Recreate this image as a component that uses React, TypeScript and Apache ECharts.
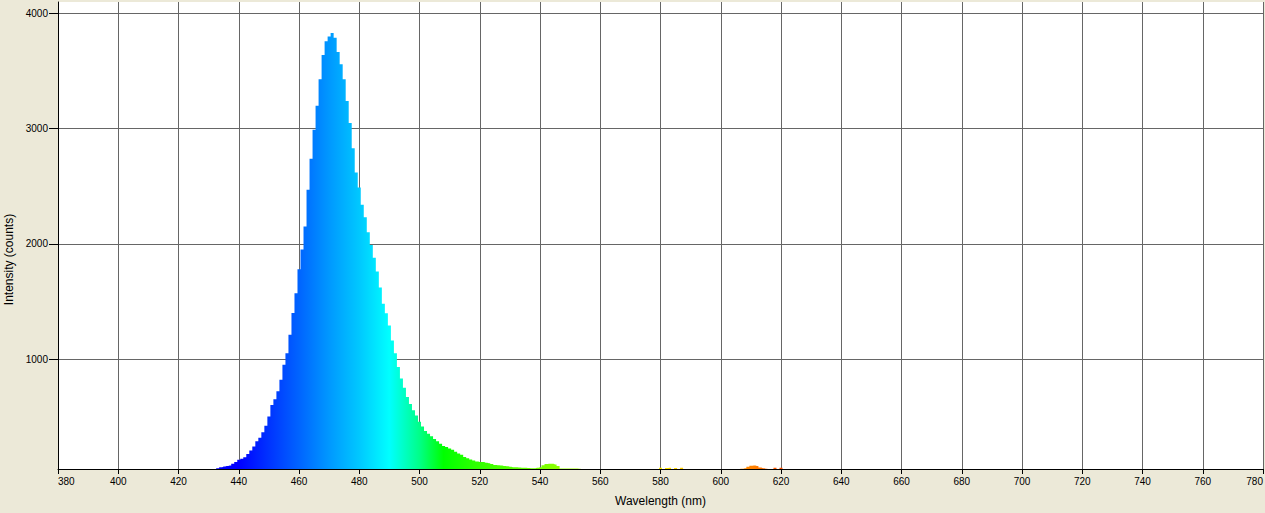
import * as echarts from 'echarts';
import { useEffect, useRef } from 'react';

// spectrum sampled every 1 nm starting at START_NM
const START_NM = 430;
const STEP_NM = 1;
const COUNTS = [
  40, 40, 40, 52, 61, 66, 70, 76, 90, 105,
  125, 135, 148, 175, 205, 240, 285, 317, 365, 420,
  500, 600, 650, 720, 820, 950, 1050, 1210, 1400, 1570,
  1780, 1950, 2150, 2470, 2740, 2990, 3200, 3430, 3640, 3760,
  3800, 3830, 3790, 3665, 3560, 3430, 3240, 3050, 2830, 2620,
  2490, 2340, 2230, 2100, 1990, 1880, 1760, 1620, 1480, 1398,
  1290, 1160, 1050, 930, 830, 750, 670, 610, 555, 510,
  455, 415, 375, 350, 330, 305, 285, 265, 245, 235,
  222, 213, 195, 180, 168, 150, 138, 128, 119, 110,
  105, 105, 100, 96, 88, 80, 77, 76, 72, 68,
  64, 61, 60, 57, 55, 55, 53, 52, 52, 55,
  61, 78, 88, 90, 90, 85, 70, 50, 49, 49,
  49, 49, 49, 48, 40, 40, 40, 40, 40, 40,
  40, 40, 40, 40, 40, 40, 40, 40, 40, 40,
  40, 40, 40, 40, 40, 40, 40, 40, 40, 40,
  55, 40, 54, 55, 40, 54, 40, 55, 40, 40,
  40, 40, 40, 40, 40, 40, 40, 40, 40, 40,
  40, 40, 40, 40, 40, 40, 40, 48, 52, 65,
  74, 76, 70, 58, 52, 47, 40, 40, 55, 40,
  55, 40, 40, 40, 40, 40,
];

const X_MIN = 380;
const X_MAX = 780;
const X_INTERVAL = 20;
const Y_MIN = 45;
const Y_MAX = 4100;
const Y_TICKS = [1000, 2000, 3000, 4000];
const FLOOR = 40; // below the visible axis minimum

// wavelength -> fill colour
const COLOR_STOPS: [number, string][] = [
  [380, '#0000ff'],
  [440, '#0000ff'],
  [450, '#0033ff'],
  [460, '#0064ff'],
  [470, '#0098ff'],
  [480, '#00c8ff'],
  [490, '#00ffff'],
  [500, '#00ff88'],
  [508, '#00ff00'],
  [520, '#33ff00'],
  [545, '#88ff00'],
  [565, '#ccff00'],
  [580, '#ffee00'],
  [595, '#ffaa00'],
  [611, '#ff8000'],
  [620, '#ff5000'],
  [780, '#ff0000'],
];

const FONT = '"Liberation Sans", Arial, sans-serif';

export default function App() {
  const chartRef = useRef<HTMLDivElement>(null);

  useEffect(() => {
    if (!chartRef.current) return;
    const chart = echarts.init(chartRef.current, undefined, { renderer: 'svg' });

    const data: [number, number][] = [
      [X_MIN, FLOOR],
      ...COUNTS.map((v, i) => [START_NM + i * STEP_NM, v] as [number, number]),
      [X_MAX, FLOOR],
    ];

    const fill = new echarts.graphic.LinearGradient(
      0, 0, 1, 0,
      COLOR_STOPS.map(([nm, color]) => ({ offset: (nm - X_MIN) / (X_MAX - X_MIN), color }))
    );

    chart.setOption({
      animation: false,
      backgroundColor: '#ece9d8',
      textStyle: { fontFamily: FONT },
      grid: {
        left: 58,
        right: 2,
        top: 2,
        bottom: 44,
        outerBoundsMode: 'none',
        containLabel: false,
        show: true,
        backgroundColor: '#ffffff',
        borderWidth: 0,
      },
      xAxis: {
        type: 'value',
        min: X_MIN,
        max: X_MAX,
        interval: X_INTERVAL,
        name: 'Wavelength (nm)',
        nameLocation: 'middle',
        nameGap: 26,
        nameTextStyle: { color: '#000', fontSize: 12, fontFamily: FONT },
        axisLine: { onZero: false, lineStyle: { color: '#000', width: 1 } },
        axisTick: { show: true, length: 5, lineStyle: { color: '#000' } },
        axisLabel: {
          color: '#000',
          fontSize: 10,
          fontFamily: FONT,
          margin: 7,
          alignMinLabel: 'left',
          alignMaxLabel: 'right',
        },
        splitLine: { show: true, lineStyle: { color: '#666666', width: 1 } },
      },
      yAxis: {
        type: 'value',
        min: Y_MIN,
        max: Y_MAX,
        name: 'Intensity (counts)',
        nameLocation: 'middle',
        nameGap: 39,
        nameTextStyle: { color: '#000', fontSize: 12, fontFamily: FONT, padding: [0, 48, 0, 0] },
        axisLine: { show: true, onZero: false, lineStyle: { color: '#000', width: 1 } },
        axisTick: { show: true, length: 9, customValues: Y_TICKS, lineStyle: { color: '#000' } },
        axisLabel: {
          color: '#000',
          fontSize: 10,
          fontFamily: FONT,
          margin: 10,
          customValues: Y_TICKS,
          formatter: (v: number) => String(v),
        },
        splitLine: { show: true, lineStyle: { color: '#666666', width: 1 } },
      },
      series: [
        {
          type: 'line',
          data,
          step: 'middle',
          showSymbol: false,
          clip: true,
          lineStyle: { width: 0 },
          areaStyle: { color: fill, opacity: 1 },
          z: 1,
        },
      ],
    });

    return () => chart.dispose();
  }, []);

  return (
    <div
      ref={chartRef}
      style={{ position: 'fixed', left: 0, top: 0, width: 1265, height: 513 }}
    />
  );
}
